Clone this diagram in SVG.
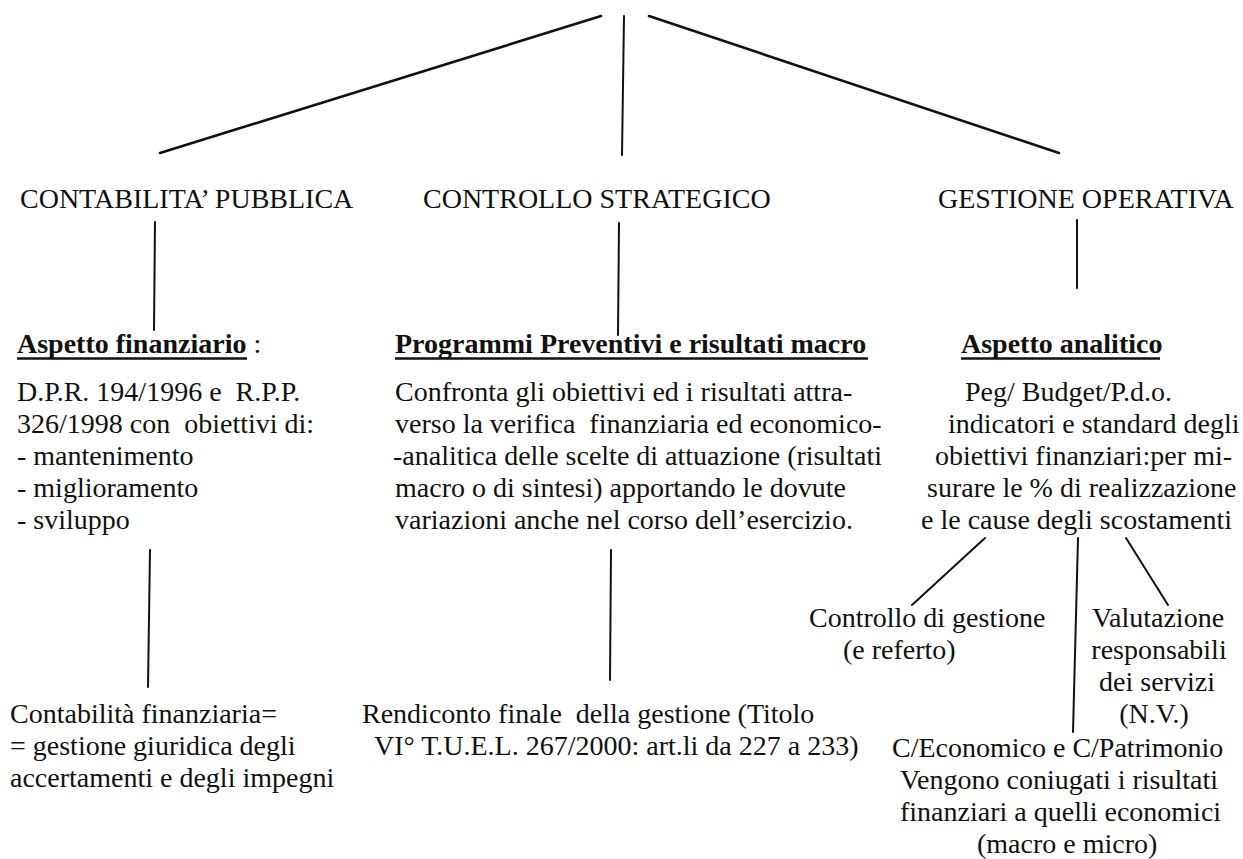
<svg xmlns="http://www.w3.org/2000/svg" width="1243" height="859" viewBox="0 0 1243 859">
<style>
text{font-family:"Liberation Serif","Times New Roman",serif;font-size:28px;fill:#111}
.b{font-weight:bold}
.m{text-anchor:middle}
.ln{stroke:#111;stroke-width:2;fill:none;stroke-linecap:round}
.top{stroke-width:2.6}
.ul{stroke:#111;stroke-width:2.6}
</style>
<rect width="1243" height="859" fill="#fff"/>
<g id="connectors">
<line class="ln top" x1="601" y1="16" x2="160" y2="153"/>
<line class="ln" x1="624" y1="16" x2="622" y2="155"/>
<line class="ln top" x1="649" y1="16" x2="1059" y2="153"/>
<line class="ln" x1="155" y1="222" x2="154" y2="330"/>
<line class="ln" x1="619" y1="223" x2="618" y2="335"/>
<line class="ln" x1="1077" y1="220" x2="1077" y2="288"/>
<line class="ln" x1="150" y1="550" x2="148" y2="687"/>
<line class="ln" x1="611" y1="550" x2="610" y2="680"/>
<line class="ln" x1="985" y1="538" x2="912" y2="605"/>
<line class="ln" x1="1078" y1="538" x2="1073" y2="732"/>
<line class="ln" x1="1126" y1="538" x2="1168" y2="605"/>
</g>
<g id="contabilita-pubblica"><text x="20" y="208">CONTABILITA’ PUBBLICA</text></g>
<g id="controllo-strategico"><text x="423" y="208">CONTROLLO STRATEGICO</text></g>
<g id="gestione-operativa"><text x="938" y="208">GESTIONE OPERATIVA</text></g>
<g id="aspetto-finanziario">
<text x="17" y="353"><tspan class="b">Aspetto finanziario</tspan> :</text>
<line class="ul" x1="17" y1="358.5" x2="247" y2="358.5"/>
<text x="17" y="401" xml:space="preserve">D.P.R. 194/1996 e  R.P.P.</text>
<text x="17" y="433" xml:space="preserve">326/1998 con  obiettivi di:</text>
<text x="17" y="465">- mantenimento</text>
<text x="17" y="497">- miglioramento</text>
<text x="17" y="529">- sviluppo</text>
</g>
<g id="programmi-preventivi">
<text class="b" x="395" y="353">Programmi Preventivi e risultati macro</text>
<line class="ul" x1="395" y1="358.5" x2="868" y2="358.5"/>
<text x="395" y="401">Confronta gli obiettivi ed i risultati attra-</text>
<text x="395" y="433" xml:space="preserve">verso la verifica  finanziaria ed economico-</text>
<text x="393" y="465">-analitica delle scelte di attuazione (risultati</text>
<text x="395" y="497">macro o di sintesi) apportando le dovute</text>
<text x="395" y="529">variazioni anche nel corso dell’esercizio.</text>
</g>
<g id="aspetto-analitico">
<text class="b" x="961" y="353">Aspetto analitico</text>
<line class="ul" x1="961" y1="358.5" x2="1160" y2="358.5"/>
<text x="965" y="401">Peg/ Budget/P.d.o.</text>
<text x="948" y="433">indicatori e standard degli</text>
<text x="935" y="465">obiettivi finanziari:per mi-</text>
<text x="927" y="497">surare le % di realizzazione</text>
<text x="921" y="529">e le cause degli scostamenti</text>
</g>
<g id="contabilita-finanziaria">
<text x="10" y="723">Contabilità finanziaria=</text>
<text x="10" y="755">= gestione giuridica degli</text>
<text x="10" y="787">accertamenti e degli impegni</text>
</g>
<g id="rendiconto">
<text x="362" y="723" xml:space="preserve">Rendiconto finale  della gestione (Titolo</text>
<text x="374" y="755">VI° T.U.E.L. 267/2000: art.li da 227 a 233)</text>
</g>
<g id="controllo-gestione">
<text x="809" y="627">Controllo di gestione</text>
<text x="843" y="659">(e referto)</text>
</g>
<g id="valutazione">
<text class="m" x="1158" y="627">Valutazione</text>
<text class="m" x="1159" y="659">responsabili</text>
<text class="m" x="1157" y="691">dei servizi</text>
<text class="m" x="1154" y="723">(N.V.)</text>
</g>
<g id="conto-economico">
<text x="892" y="757">C/Economico e C/Patrimonio</text>
<text x="900" y="789">Vengono coniugati i risultati</text>
<text x="900" y="821">finanziari a quelli economici</text>
<text x="977" y="853">(macro e micro)</text>
</g>
</svg>
